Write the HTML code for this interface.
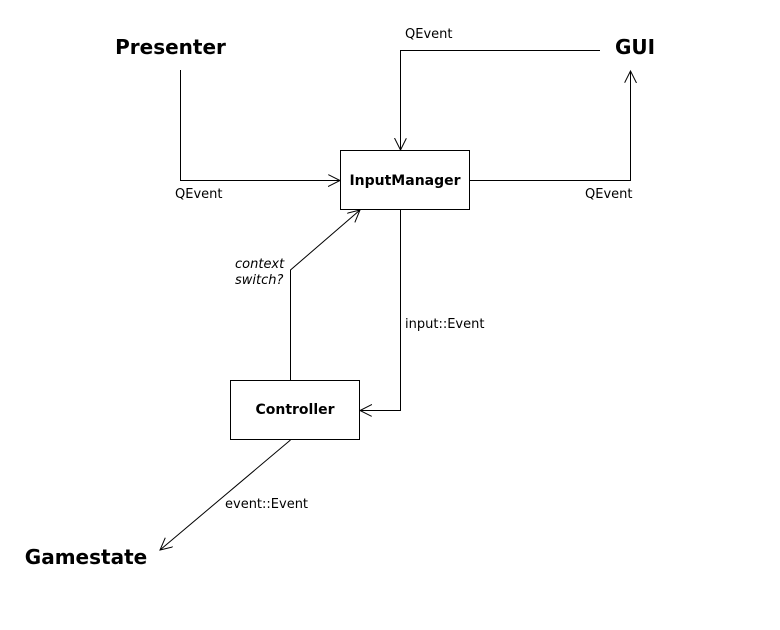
<!DOCTYPE html>
<html><head><meta charset="utf-8"><style>
html,body{margin:0;padding:0;background:#fff;}
svg{display:block;}
text{font-family:"DejaVu Sans","Liberation Sans",sans-serif;fill:#000;}
</style></head><body>
<svg width="780" height="630" viewBox="0 0 780 630" xmlns="http://www.w3.org/2000/svg">
<defs>
<marker id="a" markerWidth="14" markerHeight="14" refX="12" refY="6" orient="auto" markerUnits="userSpaceOnUse">
<path d="M0,0 L12,6 L0,12" fill="none" stroke="#000" stroke-width="1"/>
</marker>
</defs>
<g fill="none" stroke="#000" stroke-width="1">
<rect x="340.5" y="150.5" width="129" height="59"/>
<rect x="230.5" y="380.5" width="129" height="59"/>
<polyline points="180.5,70 180.5,180.5 340,180.5" marker-end="url(#a)"/>
<polyline points="600,50.5 400.5,50.5 400.5,150" marker-end="url(#a)"/>
<polyline points="470,180.5 630.5,180.5 630.5,71" marker-end="url(#a)"/>
<polyline points="400.5,210 400.5,410.5 360,410.5" marker-end="url(#a)"/>
<polyline points="290.5,380 290.5,270 360,210" marker-end="url(#a)"/>
<polyline points="290.5,440 160,550" marker-end="url(#a)"/>
</g>
<text x="170.5" y="54" font-size="20" font-weight="bold" text-anchor="middle">Presenter</text>
<text x="635" y="54" font-size="20" font-weight="bold" text-anchor="middle">GUI</text>
<text x="86" y="564" font-size="20" font-weight="bold" text-anchor="middle">Gamestate</text>
<text x="405" y="185" font-size="14" font-weight="bold" text-anchor="middle">InputManager</text>
<text x="295" y="414" font-size="14" font-weight="bold" text-anchor="middle">Controller</text>
<text x="405" y="38" font-size="13">QEvent</text>
<text x="175" y="198" font-size="13">QEvent</text>
<text x="585" y="198" font-size="13">QEvent</text>
<text x="405" y="328" font-size="13">input::Event</text>
<text x="225" y="508" font-size="13">event::Event</text>
<text x="235" y="268" font-size="13" font-style="italic">context</text>
<text x="235" y="284" font-size="13" font-style="italic">switch?</text>
</svg>
</body></html>
